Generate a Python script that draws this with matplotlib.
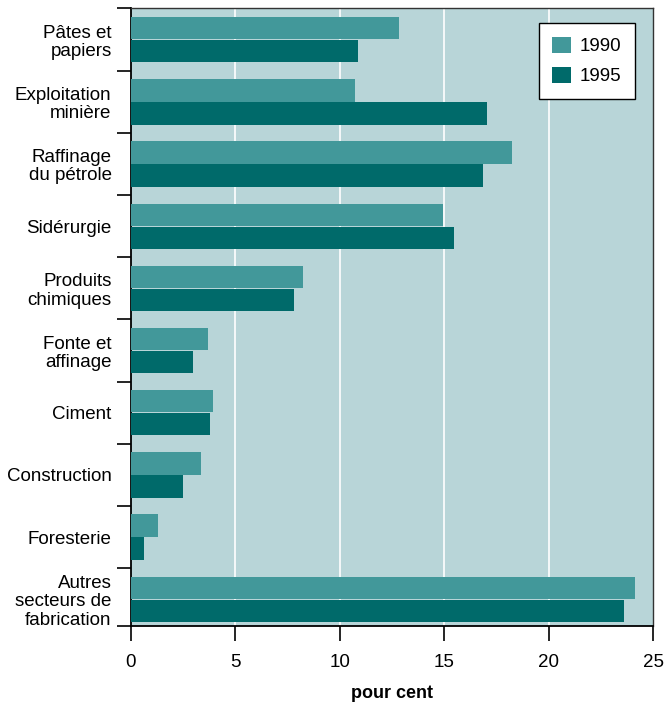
import matplotlib
matplotlib.use("Agg")
import matplotlib.pyplot as plt
import numpy as np

plt.rcParams['font.family'] = ['Liberation Sans', 'DejaVu Sans']

categories = ["Pâtes et\npapiers", "Exploitation\nminière", "Raffinage\ndu pétrole",
              "Sidérurgie", "Produits\nchimiques", "Fonte et\naffinage", "Ciment",
              "Construction", "Foresterie", "Autres\nsecteurs de\nfabrication"]
v1990 = [12.85, 10.75, 18.25, 14.95, 8.25, 3.7, 3.95, 3.35, 1.3, 24.15]
v1995 = [10.85, 17.05, 16.85, 15.45, 7.8, 2.95, 3.8, 2.5, 0.6, 23.6]
series_labels = ["1990", "1995"]
xticks = [0, 5, 10, 15, 20, 25]

c1990 = "#42989a"
c1995 = "#006a6a"
bg = "#b8d5d8"

fig = plt.figure(figsize=(6.7, 7.02), dpi=100)
ax = fig.add_axes([131/670, 1-626/702, (653-131)/670, (626-8)/702])
ax.set_facecolor(bg)

y = np.arange(len(categories))
h = 0.36
ax.barh(y - h/2 - 0.005, v1990, height=h, color=c1990, label=series_labels[0], zorder=3)
ax.barh(y + h/2 + 0.005, v1995, height=h, color=c1995, label=series_labels[1], zorder=3)

ax.set_xlim(0, 25)
ax.set_ylim(9.43, -0.51)
ax.set_xticks(xticks)
ax.set_xticklabels([str(t) for t in xticks], fontsize=13.5)
ax.tick_params(axis='x', length=11, width=1.2, direction='out', pad=9)
for t in xticks[1:-1]:
    ax.axvline(t, color='white', lw=1.2, zorder=1)

# category labels
ax.set_yticks(y)
ax.set_yticklabels(categories, fontsize=13.5, ha='right', linespacing=1.1)
ax.tick_params(axis='y', which='major', length=0, pad=14)
bounds = [-0.51] + [i + 0.5 for i in range(9)] + [9.43]
ax.set_yticks(bounds, minor=True)
ax.tick_params(axis='y', which='minor', length=10, width=1.2, direction='out')

for s in ['left', 'bottom']:
    ax.spines[s].set_color('black')
    ax.spines[s].set_linewidth(1.3)
for s in ['top', 'right']:
    ax.spines[s].set_color('#333333')
    ax.spines[s].set_linewidth(1.0)

ax.set_xlabel("pour cent", fontsize=13, fontweight='bold', labelpad=10)

leg = ax.legend(loc='upper right', bbox_to_anchor=(0.965, 0.975), fontsize=13.5,
                frameon=True, fancybox=False, edgecolor='black', framealpha=1,
                handlelength=1.0, handleheight=1.0, borderpad=0.7, labelspacing=0.6,
                handletextpad=0.5, borderaxespad=0)
leg.get_frame().set_linewidth(1.0)

fig.savefig("out.png", dpi=100)
